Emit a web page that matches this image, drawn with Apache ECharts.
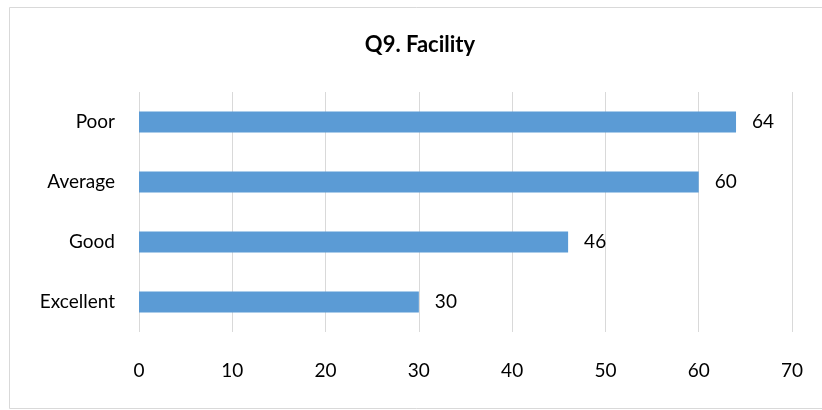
<!DOCTYPE html>
<html>
<head>
<meta charset="utf-8">
<script src="https://cdn.jsdelivr.net/npm/echarts@6/dist/echarts.min.js"></script>
<style>
  html, body { margin: 0; padding: 0; background: #fff; }
  #chart { width: 822px; height: 410px; }
</style>
</head>
<body>
<div id="chart"></div>
<script>
// Survey responses for question 9 (facility rating)
const titleText = 'Q9. Facility';
const categories = ['Excellent', 'Good', 'Average', 'Poor'];
const responses = [30, 46, 60, 64];
const tickMin = 0;
const tickMax = 70;
const tickStep = 10;

const FONT = 'Lato, "Open Sans", "Noto Sans", sans-serif';

const chart = echarts.init(document.getElementById('chart'), null, { renderer: 'canvas' });
chart.setOption({
  backgroundColor: '#ffffff',
  animation: false,
  graphic: [{
    type: 'rect',
    shape: { x: 9.5, y: 7.5, width: 830, height: 401 },
    style: { fill: 'none', stroke: '#d9d9d9', lineWidth: 1 },
    silent: true
  }, {
    type: 'text',
    x: 420,
    y: 45,
    style: {
      text: titleText,
      align: 'center',
      verticalAlign: 'middle',
      fontFamily: FONT,
      fontSize: 22,
      fontWeight: 'bold',
      fill: '#000'
    },
    silent: true
  }],
  grid: { left: 139, right: 30, top: 92, bottom: 78, containLabel: false },
  xAxis: {
    type: 'value',
    min: tickMin,
    max: tickMax,
    interval: tickStep,
    axisLine: { show: false },
    axisTick: { show: false },
    splitLine: { show: true, lineStyle: { color: '#d9d9d9', width: 1 } },
    axisLabel: { margin: 29, fontFamily: FONT, fontSize: 19, color: '#000' }
  },
  yAxis: {
    type: 'category',
    data: categories,
    axisLine: { show: false },
    axisTick: { show: false },
    axisLabel: { margin: 24, fontFamily: FONT, fontSize: 19, color: '#000' }
  },
  series: [{
    type: 'bar',
    data: responses,
    barWidth: 21,
    itemStyle: { color: '#5b9bd5' },
    label: {
      show: true,
      position: 'right',
      distance: 16,
      fontFamily: FONT,
      fontSize: 19,
      color: '#000'
    }
  }]
});
</script>
</body>
</html>
